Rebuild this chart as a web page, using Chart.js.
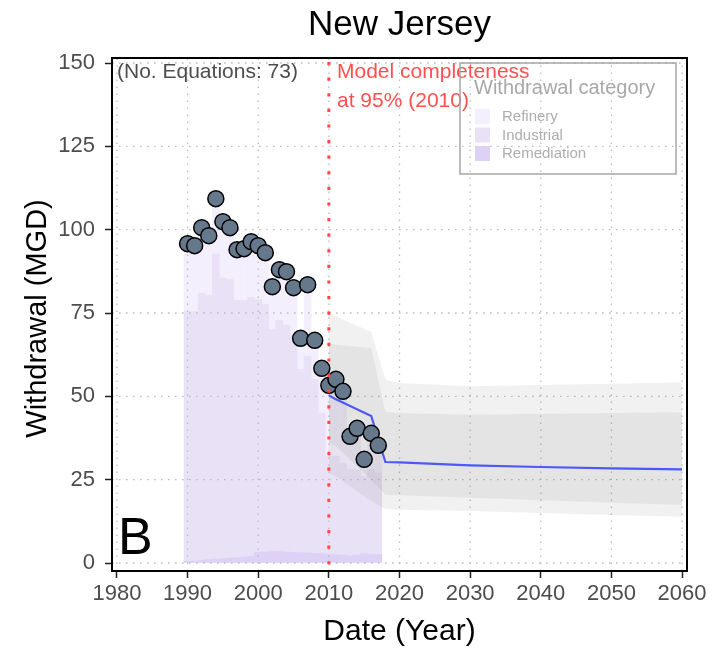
<!DOCTYPE html>
<html>
<head>
<meta charset="utf-8">
<script src="https://cdn.jsdelivr.net/npm/chart.js@4.4.1/dist/chart.umd.min.js"></script>
<style>
  html, body { margin: 0; padding: 0; background: #ffffff; }
  #wrap { width: 712px; height: 648px; }
</style>
</head>
<body>
<div id="wrap"><canvas id="chart" width="712" height="648"></canvas></div>
<script>
// gemessene Entnahmen (MGD) pro Jahr
const years = [1990, 1991, 1992, 1993, 1994, 1995, 1996, 1997, 1998, 1999,
               2000, 2001, 2002, 2003, 2004, 2005, 2006, 2007, 2008, 2009,
               2010, 2011, 2012, 2013, 2014, 2015, 2016, 2017];
const observed = [95.8, 95.2, 100.6, 98.2, 109.3, 102.4, 100.6, 94.0, 94.3, 96.4,
                  95.2, 93.1, 82.9, 88.0, 87.4, 82.6, 67.4, 83.5, 66.8, 58.4,
                  53.3, 55.1, 51.5, 38.0, 40.4, 31.1, 38.9, 35.3];

// Anteile je Kategorie (gestapelt, Remediation unten)
const refinery = [20.3, 19.7, 19.6, 17.8, 16.6, 16.9, 15.6, 15.3, 15.6, 16.8,
                  16.2, 15.4, 12.9, 15.3, 16.0, 14.6, 9.4, 21.5, 11.8, 13.4,
                  21.3, 23.1, 21.5, 10.0, 12.4, 5.1, 10.9, 8.3];
const industrial = [75.0, 74.9, 80.2, 79.4, 91.5, 84.2, 83.5, 77.1, 76.9, 77.6,
                    75.8, 74.4, 66.6, 69.3, 68.1, 64.8, 54.9, 59.0, 52.1, 42.2,
                    29.4, 29.5, 27.6, 25.8, 25.6, 23.2, 25.3, 24.5];
const remediation = [0.5, 0.6, 0.8, 1.0, 1.2, 1.3, 1.5, 1.6, 1.8, 2.0,
                     3.2, 3.3, 3.4, 3.4, 3.3, 3.2, 3.1, 3.0, 2.9, 2.8,
                     2.6, 2.5, 2.4, 2.2, 2.4, 2.8, 2.7, 2.5];

// Projektion ab 2010
const projYears = [2010, 2011, 2016, 2018, 2020, 2030, 2040, 2050, 2060];
const projMedian = [50.3, 49.1, 44.1, 30.3, 30.2, 29.3, 28.8, 28.4, 28.1];
const projInnerLow = [36, 35, 25, 20.5, 20.3, 19.6, 18.8, 18.1, 17.4];
const projInnerHigh = [66, 65.5, 64.5, 45.4, 45, 44.5, 44.8, 45, 45.2];
const projOuterLow = [27, 26, 18.5, 16.2, 16, 15.6, 15, 14.4, 13.9];
const projOuterHigh = [75, 74, 69.3, 55, 54, 53, 53.4, 53.8, 54.2];

const xTicks = [1980, 1990, 2000, 2010, 2020, 2030, 2040, 2050, 2060];
const yTicks = [0, 25, 50, 75, 100, 125, 150];
const categories = ['Refinery', 'Industrial', 'Remediation'];
const modelYear = 2010;

const catColors = ['#f3effd', '#e9e1f5', '#ded1f6'];
const bandColor = 'rgba(120,120,120,0.1)';
const gridColor = '#bdbdbd';
const FONT = 'Liberation Sans, Arial, Helvetica, sans-serif';

function pts(xs, ys) {
  return xs.map((x, i) => ({ x: x, y: ys[i] }));
}

function barSet(label, values, color) {
  return {
    type: 'bar', label: label, data: pts(years, values),
    backgroundColor: color, borderWidth: 0, stack: 'hist', grouped: false,
    barPercentage: 1, categoryPercentage: 1, order: 10
  };
}

function lineSet(label, values, extra) {
  return Object.assign({
    type: 'line', label: label, data: pts(projYears, values),
    borderColor: 'rgba(0,0,0,0)', borderWidth: 0, pointRadius: 0,
    fill: false, tension: 0, stack: label
  }, extra);
}

// Gitter über den Säulen, aber unter Bändern und Punkten
let barsDrawn = 0;
const gridAfterBars = {
  id: 'gridAfterBars',
  beforeDatasetsDraw() { barsDrawn = 0; },
  afterDatasetDraw(chart, args) {
    if (chart.data.datasets[args.index].type !== 'bar') return;
    barsDrawn++;
    if (barsDrawn < categories.length) return;
    const { ctx, chartArea: a, scales: { x, y } } = chart;
    ctx.save();
    ctx.strokeStyle = gridColor;
    ctx.lineWidth = 1.3;
    ctx.setLineDash([1.6, 5.4]);
    xTicks.forEach(v => {
      const px = x.getPixelForValue(v);
      ctx.beginPath(); ctx.moveTo(px, a.bottom); ctx.lineTo(px, a.top); ctx.stroke();
    });
    yTicks.forEach(v => {
      const py = y.getPixelForValue(v);
      ctx.beginPath(); ctx.moveTo(a.left, py); ctx.lineTo(a.right, py); ctx.stroke();
    });
    ctx.restore();
  }
};

// Rahmen, Texte, Legende, rote Linie
const decorations = {
  id: 'decorations',
  afterDatasetsDraw(chart) {
    const { ctx, chartArea: a, scales: { x } } = chart;
    const xm = x.getPixelForValue(modelYear);
    ctx.save();
    ctx.strokeStyle = '#ff4848';
    ctx.lineWidth = 3;
    ctx.setLineDash([3.2, 12.4]);
    ctx.beginPath();
    ctx.moveTo(xm, a.top + 4);
    ctx.lineTo(xm, a.bottom);
    ctx.stroke();
    ctx.restore();
  },
  afterDraw(chart) {
    const { ctx, chartArea: a } = chart;
    const cx = (a.left + a.right) / 2;
    ctx.save();
    // Panelrahmen
    ctx.strokeStyle = '#000';
    ctx.lineWidth = 2;
    ctx.strokeRect(a.left, a.top, a.right - a.left, a.bottom - a.top);

    ctx.textBaseline = 'middle';
    ctx.fillStyle = '#000';
    ctx.textAlign = 'center';
    ctx.font = '35px ' + FONT;
    ctx.fillText('New Jersey', cx, 25);
    ctx.font = '30px ' + FONT;
    ctx.fillText('Date (Year)', cx, 632);
    ctx.font = '29px ' + FONT;
    ctx.save();
    ctx.translate(38, (a.top + a.bottom) / 2 + 4);
    ctx.rotate(-Math.PI / 2);
    ctx.fillText('Withdrawal (MGD)', 0, 0);
    ctx.restore();

    ctx.textAlign = 'left';
    ctx.fillStyle = '#4d4d4d';
    ctx.font = '21px ' + FONT;
    ctx.fillText('(No. Equations: 73)', 117, 72);

    ctx.fillStyle = '#ff5050';
    ctx.font = '21px ' + FONT;
    ctx.fillText('Model completeness', 337, 72);
    ctx.fillText('at 95% (2010)', 337, 101);

    ctx.fillStyle = '#000';
    ctx.font = '52px ' + FONT;
    ctx.fillText('B', 118, 540);

    // Legende
    ctx.strokeStyle = '#a6a6a6';
    ctx.lineWidth = 1.5;
    ctx.strokeRect(460, 63, 216, 111);
    ctx.fillStyle = '#a8a8a8';
    ctx.font = '20px ' + FONT;
    ctx.fillText('Withdrawal category', 474, 88);
    ctx.font = '15px ' + FONT;
    categories.forEach((name, i) => {
      const top = 109 + i * 18.5;
      ctx.fillStyle = catColors[i];
      ctx.fillRect(475, top, 15, 15);
      ctx.fillStyle = '#adadad';
      ctx.fillText(name, 502, top + 8);
    });
    ctx.restore();
  }
};

const datasets = [
  barSet(categories[2], remediation, catColors[2]),
  barSet(categories[1], industrial, catColors[1]),
  barSet(categories[0], refinery, catColors[0]),
  lineSet('outerLow', projOuterLow, { order: 5 }),
  lineSet('outerHigh', projOuterHigh, { order: 5, fill: '-1', backgroundColor: bandColor }),
  lineSet('innerLow', projInnerLow, { order: 4 }),
  lineSet('innerHigh', projInnerHigh, { order: 4, fill: '-1', backgroundColor: bandColor }),
  lineSet('median', projMedian, { order: 2, borderColor: 'rgb(78,88,250)', borderWidth: 2.2 }),
  {
    type: 'line', label: 'observed', data: pts(years, observed), showLine: false,
    pointRadius: 8, pointBackgroundColor: '#66788b', pointBorderColor: '#000',
    pointBorderWidth: 1.5, stack: 'observed', order: 1, clip: false
  }
];

const tickFont = { family: FONT, size: 22 };

new Chart(document.getElementById('chart').getContext('2d'), {
  type: 'line',
  data: { datasets: datasets },
  options: {
    responsive: false,
    animation: false,
    events: [],
    layout: { padding: { top: 58, right: 25, left: 0, bottom: 0 } },
    plugins: { legend: { display: false }, tooltip: { enabled: false }, title: { display: false } },
    scales: {
      x: {
        type: 'linear', min: 1979.3, max: 2060.7, offset: false, stacked: false,
        afterBuildTicks: s => { s.ticks = xTicks.map(v => ({ value: v })); },
        afterFit: s => { s.height = 77; },
        grid: { offset: false, drawOnChartArea: false, tickColor: '#222', tickWidth: 1.5, tickLength: 7 },
        border: { display: false },
        ticks: { color: '#4d4d4d', font: tickFont, padding: 3, maxRotation: 0,
                 callback: v => String(v) }
      },
      y: {
        type: 'linear', min: -2.4, max: 151.5, stacked: true,
        afterBuildTicks: s => { s.ticks = yTicks.map(v => ({ value: v })); },
        afterFit: s => { s.width = 112; },
        grid: { drawOnChartArea: false, tickColor: '#222', tickWidth: 1.5, tickLength: 7 },
        border: { display: false },
        ticks: { color: '#4d4d4d', font: tickFont, padding: 10,
                 callback: v => String(v) }
      }
    }
  },
  plugins: [gridAfterBars, decorations]
});
</script>
</body>
</html>
